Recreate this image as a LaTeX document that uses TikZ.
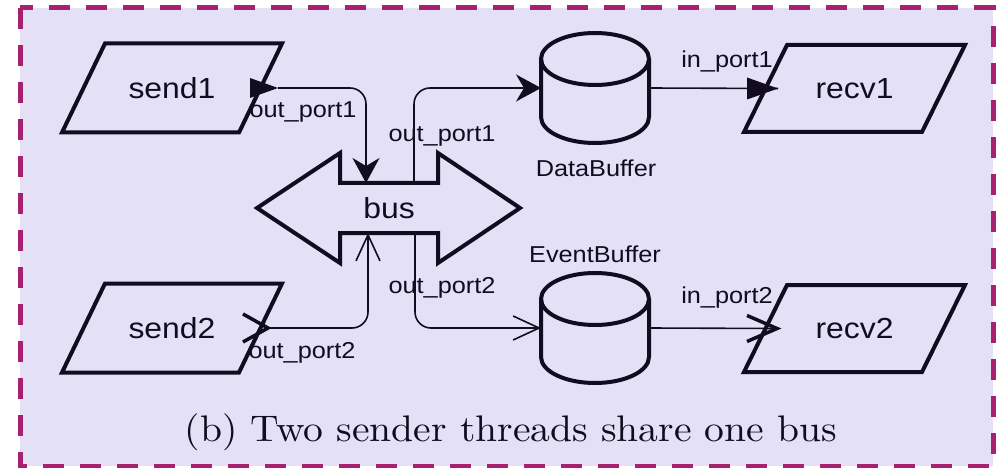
\documentclass[tikz,border=0pt]{standalone}
\usepackage{fontspec}
\usetikzlibrary{arrows.meta,calc}
\newfontfamily\labfont[FakeStretch=1.1]{Liberation Sans}
\newfontfamily\capfont[FakeStretch=1.07]{lmroman10-regular.otf}
\definecolor{panel}{RGB}{228,224,246}
\definecolor{framecol}{RGB}{168,32,112}
\definecolor{ink}{RGB}{18,12,32}

\begin{document}
\begin{tikzpicture}[x=1pt,y=-1pt,
  box/.style={inner sep=0pt, outer sep=0pt, text=ink},
  bigtext/.style={font=\labfont\fontsize{29pt}{32pt}\selectfont},
  smalltext/.style={box, font=\labfont\fontsize{23pt}{26pt}\selectfont},
  outline/.style={draw=ink, line width=4pt, line join=miter},
  conn/.style={draw=ink, line width=1.6pt, rounded corners=16pt},
  portbarb/.style={draw=ink, line width=3.5pt},
  filledhead/.style={-{Stealth[length=25pt, width=27pt, inset=8pt]}},
  openhead/.style={-{Straight Barb[length=26pt, width=24pt]}},
]
\useasboundingbox (0,0) rectangle (999,468);
\fill[white] (0,0) rectangle (999,468);
\filldraw[fill=panel, draw=framecol, line width=5pt, dash pattern=on 21pt off 16pt]
  (20,8) rectangle (993,466);

% senders and receivers (parallelograms)
\node[box, bigtext, minimum width=220pt, minimum height=89pt] (send1) at (172,88) {send1};
\node[box, bigtext, minimum width=220pt, minimum height=89pt] (send2) at (172,328) {send2};
\node[box, bigtext, minimum width=221pt, minimum height=87pt] (recv1) at (854.5,88.5) {recv1};
\node[box, bigtext, minimum width=221pt, minimum height=87pt] (recv2) at (854.5,328.5) {recv2};
\foreach \n in {send1,send2,recv1,recv2}{
  \draw[outline] ([xshift=43pt]\n.north west) -- (\n.north east)
    -- ([xshift=-43pt]\n.south east) -- (\n.south west) -- cycle;
}

% the shared bus (double arrow)
\node[box, bigtext, minimum width=98pt, minimum height=50pt] (bus) at (389,208) {bus};
\draw[outline] ([xshift=-83pt]bus.west) -- ([yshift=30pt]bus.north west)
  -- (bus.north west) -- (bus.north east) -- ([yshift=30pt]bus.north east)
  -- ([xshift=82pt]bus.east) -- ([yshift=-30pt]bus.south east)
  -- (bus.south east) -- (bus.south west) -- ([yshift=-30pt]bus.south west) -- cycle;

% buffers (cylinders)
\node[box, minimum width=108pt, minimum height=110pt] (databuf) at (595,88) {};
\node[box, minimum width=108pt, minimum height=110pt] (eventbuf) at (595,328) {};
\foreach \n in {databuf,eventbuf}{
  \draw[outline] ([yshift=-26pt]\n.north) ellipse[x radius=54pt, y radius=26pt];
  \draw[outline] ([yshift=-26pt]\n.north west) -- ([yshift=26pt]\n.south west)
    arc[start angle=180, end angle=360, x radius=54pt, y radius=26pt]
    -- ([yshift=-26pt]\n.north east);
}
\node[smalltext] (dblabel) at (596,168) {DataBuffer};
\node[smalltext] (eblabel) at (595,254) {EventBuffer};

% port positions
\coordinate (s1tip) at ([xshift=-4pt]send1.east);
\coordinate (s2tip) at ([xshift=-14pt]send2.east);
\coordinate (r1tip) at ([xshift=34pt]recv1.west);
\coordinate (r2tip) at ([xshift=33pt]recv2.west);
\coordinate (busin1) at ([xshift=-23pt]bus.north);
\coordinate (busout1) at ([xshift=25pt]bus.north);
\coordinate (busin2) at ([xshift=-21pt]bus.south);
\coordinate (busout2) at ([xshift=26pt]bus.south);

% port markers
\fill[ink] ($(s1tip)+(-28,-10)$) -- (s1tip) -- ($(s1tip)+(-28,10)$) -- cycle;
\fill[ink] ($(r1tip)+(-31,-11)$) -- (r1tip) -- ($(r1tip)+(-31,11)$) -- cycle;
\draw[portbarb] ($(s2tip)+(-25,-14)$) -- (s2tip) -- ($(s2tip)+(-25,14)$);
\draw[portbarb] ($(r2tip)+(-30,-13)$) -- (r2tip) -- ($(r2tip)+(-30,13)$);

% connectors
\draw[conn, filledhead] (s1tip) -| (busin1);
\draw[conn, openhead] (s2tip) -| (busin2);
\draw[conn, filledhead] (busout1) |- (databuf.west);
\draw[conn, openhead] (busout2) |- (eventbuf.west);
\draw[conn] (databuf.east) -- (r1tip);
\draw[conn] (eventbuf.east) -- (r2tip);

% port labels
\node[smalltext] (lo1a) at (303,112) {out\_port1};
\node[smalltext] (lo1b) at (442,136) {out\_port1};
\node[smalltext] (lo2a) at (302,353) {out\_port2};
\node[smalltext] (lo2b) at (442,288) {out\_port2};
\node[smalltext] (li1) at (727,62) {in\_port1};
\node[smalltext] (li2) at (727,298) {in\_port2};

% caption
\node[box, font=\capfont\fontsize{37pt}{40pt}\selectfont] (caption) at (511,432)
  {(b) Two sender threads share one bus};
\end{tikzpicture}
\end{document}
